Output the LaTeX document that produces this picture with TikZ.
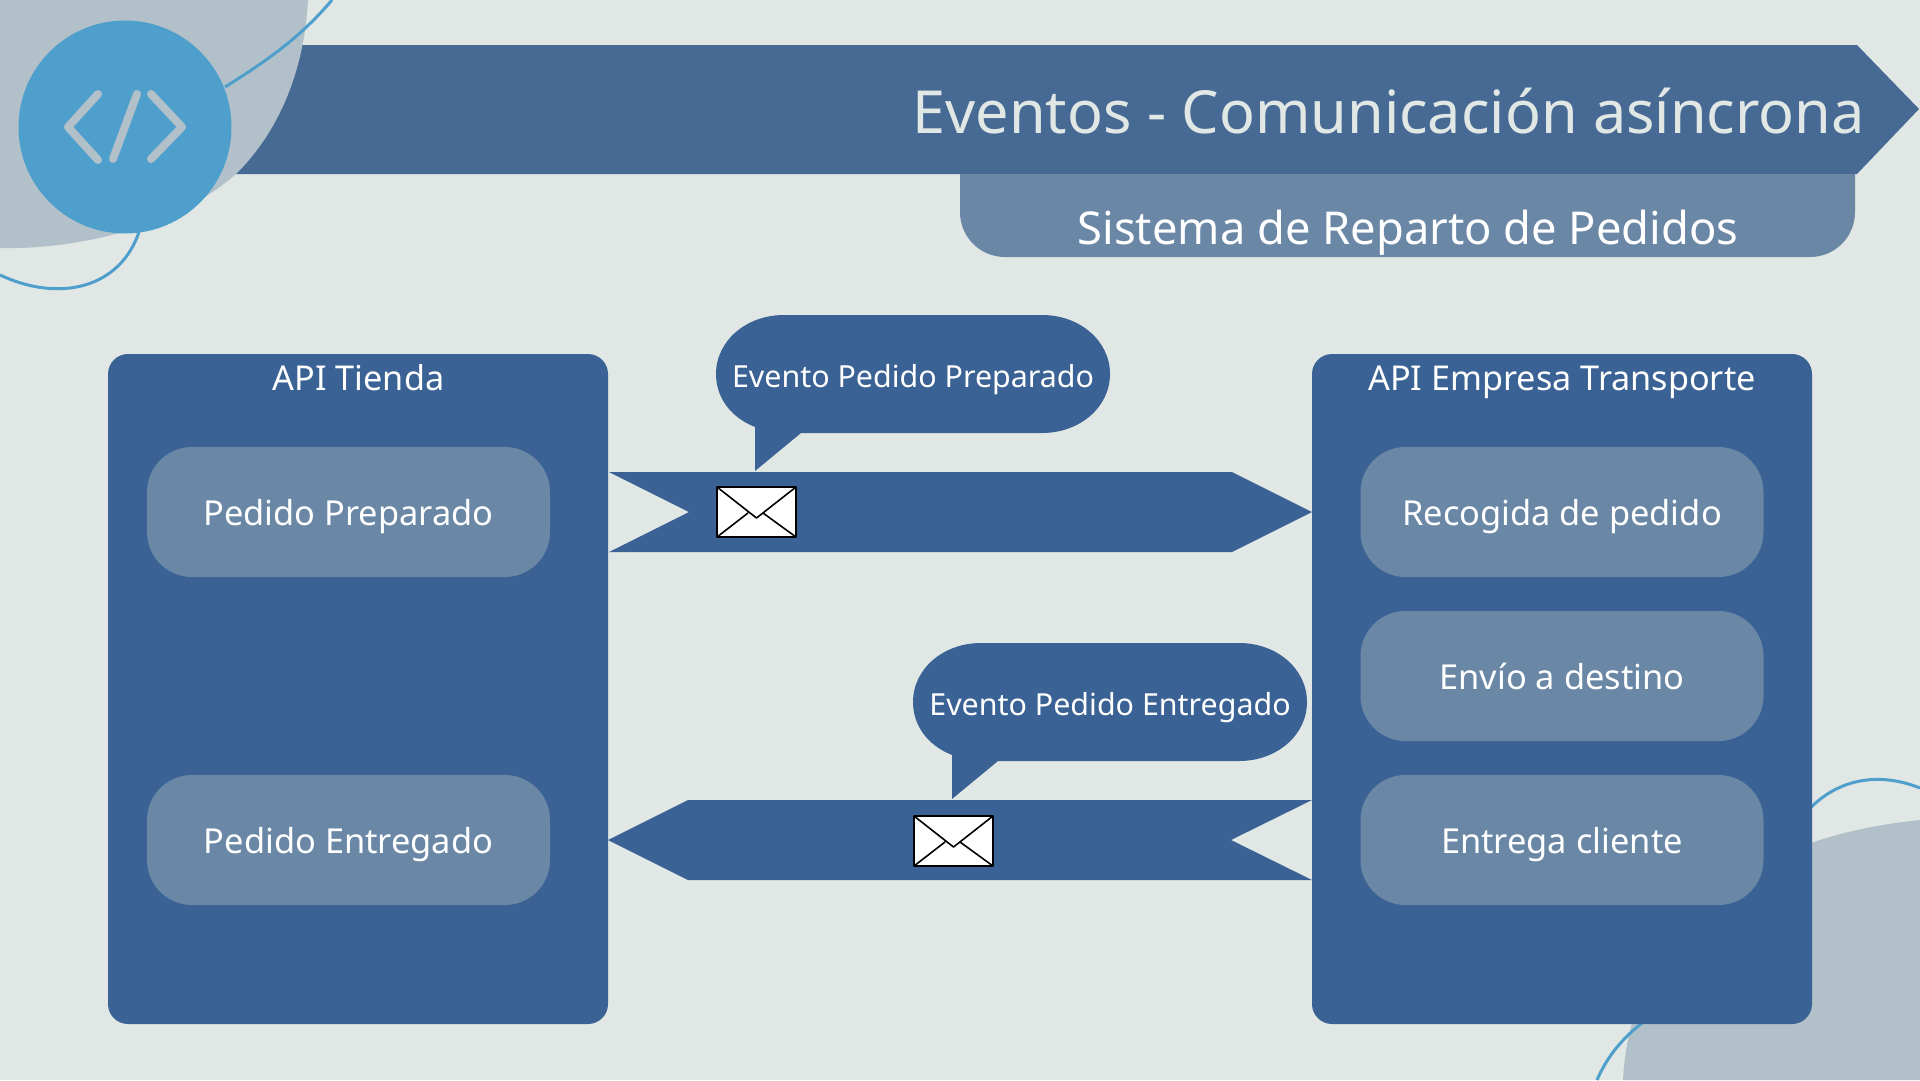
\documentclass[tikz,border=0pt]{standalone}
\usepackage{fontspec}
\setmainfont{Noto Sans}
\definecolor{pagebg}{HTML}{E1E7E4}
\definecolor{blobgray}{HTML}{B2C1C9}
\definecolor{skyblue}{HTML}{4F9FCD}
\definecolor{bannerblue}{HTML}{466A94}
\definecolor{boxblue}{HTML}{3B6295}
\definecolor{pillblue}{HTML}{6A87A6}
\tikzset{
  panel/.style={fill=boxblue,rounded corners=20,minimum width=500,minimum height=670,inner sep=0},
  pill/.style={fill=pillblue,rounded corners=45,minimum width=403,minimum height=130,inner sep=0,
    text=white,font=\fontsize{34.4}{40}\selectfont,text height=27,text depth=0},
  bubble/.style={inner sep=0,text=white,font=\fontsize{30.4}{36}\selectfont,text height=24,text depth=0},
  ribbon/.style={fill=boxblue},
  letter/.style={fill=white,draw=black,line width=1.6,line join=round},
  swirl/.style={draw=skyblue,line width=3},
  heading/.style={text=white,font=\fontsize{34.2}{40}\selectfont,text height=24,text depth=0,inner sep=0}
}
\begin{document}
\begin{tikzpicture}[x=1pt,y=-1pt]
\clip (0,0) rectangle (1920,1080);
\fill[pagebg] (0,0) rectangle (1920,1080);

% title banner
\fill[bannerblue] (200,45) -- (1857,45) -- (1919,109) -- (1857,174) -- (200,174) -- cycle;
\fill[pillblue] (960,174) -- (1855,174) -- (1855,212) .. controls (1855,237) and (1835,257) .. (1810,257)
  -- (1005,257) .. controls (980,257) and (960,237) .. (960,212) -- cycle;
\node (title)[anchor=east,text=pagebg,inner sep=0,font=\fontsize{59.4}{70}\selectfont] at (1865,111) {Eventos - Comunicación asíncrona};
\node (subtitle)[inner sep=0,text=white,font=\fontsize{45.3}{54}\selectfont] at (1408,233) {Sistema de Reparto de Pedidos};

% corner shapes
\fill[blobgray] (308,0) .. controls (305,60) and (285,125) .. (237,173)
  .. controls (180,225) and (80,250) .. (0,248) -- (0,0) -- cycle;
\draw[swirl] (225,87) .. controls (265,62) and (300,38) .. (332,0);
\draw[swirl] (139,232) .. controls (120,288) and (60,303) .. (0,275);
\fill[blobgray] (1623,1080) .. controls (1630,950) and (1720,840) .. (1920,820) -- (1920,1080) -- cycle;
\draw[swirl] (1800,820) .. controls (1830,780) and (1875,770) .. (1920,788);
\draw[swirl] (1660,1010) .. controls (1630,1030) and (1610,1050) .. (1597,1080);

% code badge
\node (badge)[circle,fill=skyblue,minimum size=213,inner sep=0] at (125,127) {};
\foreach \glyph in {{(98,94) -- (68,127) -- (98,160)},{(137,94) -- (113,159)},{(151,94) -- (182,127) -- (151,159)}}
  \draw[blobgray,line width=8,line cap=round,line join=round] \glyph;

% the two APIs
\node (tienda)[panel] at (358,689) {};
\node (transporte)[panel] at (1562,689) {};
\node (tiendaname)[heading] at (358.5,378) {API Tienda};
\node (transportename)[heading] at (1562,378) {API Empresa Transporte};
\node (p1)[pill] at (348.5,512) {Pedido Preparado};
\node (p2)[pill] at (348.5,840) {Pedido Entregado};
\node (r1)[pill] at (1562,512) {Recogida de pedido};
\node (r2)[pill] at (1562,676) {Envío a destino};
\node (r3)[pill] at (1562,840) {Entrega cliente};

% event ribbons
\fill[ribbon] (609,472) -- (1232,472) -- (1312,512) -- (1232,552) -- (609,552) -- (689,512) -- cycle;
\fill[ribbon] (1312,800) -- (688,800) -- (608,840) -- (688,880) -- (1312,880) -- (1231,840) -- cycle;

% speech bubbles
\foreach \bx/\by in {716/315,913/643}
  \fill[boxblue,shift={(\bx,\by)}] (68,0) -- (326,0) .. controls (364,0) and (394,26) .. (394,59)
    .. controls (394,92) and (364,118) .. (326,118) -- (85,118) -- (39,156) -- (39,112)
    .. controls (14,102) and (0,82) .. (0,59) .. controls (0,26) and (30,0) .. (68,0) -- cycle;
\node (preparado)[bubble] at (913,375) {Evento Pedido Preparado};
\node (entregado)[bubble] at (1110,703) {Evento Pedido Entregado};

% envelopes
\foreach \ex/\ey in {717/487,914/816}
  \draw[letter,shift={(\ex,\ey)}] (0,0) rectangle (79,50)
    (0,0) -- (39.5,31) -- (79,0) (0,50) -- (31,26) (79,50) -- (46,26);
\end{tikzpicture}
\end{document}
